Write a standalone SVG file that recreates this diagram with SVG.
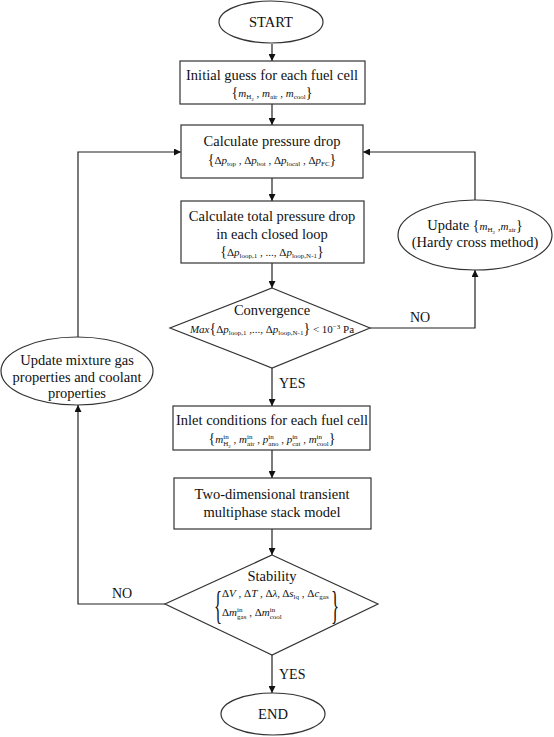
<svg xmlns="http://www.w3.org/2000/svg" width="554" height="737" viewBox="0 0 554 737">
<defs>
<marker id="ah" viewBox="0 0 10 10" refX="10" refY="5" markerWidth="7" markerHeight="7" markerUnits="userSpaceOnUse" orient="auto">
<path d="M0,0 L10,5 L0,10 z" fill="#111"/>
</marker>
<style>
.shape{fill:#fff;stroke:#333;stroke-width:1.2}
.con{fill:none;stroke:#222;stroke-width:1.2;marker-end:url(#ah)}
text{font-family:'Liberation Serif','Tinos','DejaVu Serif','Noto Serif','Times New Roman',serif;fill:#111}
.t{font-size:14.5px;text-anchor:middle}
.f{font-size:11px;text-anchor:middle}
.fl{font-size:11px}
.big{font-size:40px}
.i{font-style:italic}
.s{font-size:7px;font-style:normal}
.ss{font-size:5px}
.br{font-size:14px}
.lbl{font-size:14px}
</style>
</defs>

<g id="connectors">
<line class="con" x1="272" y1="44" x2="272" y2="61"/>
<line class="con" x1="272" y1="104" x2="272" y2="125"/>
<line class="con" x1="272" y1="178" x2="272" y2="201"/>
<line class="con" x1="272" y1="263" x2="272" y2="288"/>
<line class="con" x1="272" y1="368" x2="272" y2="406"/>
<line class="con" x1="272" y1="450" x2="272" y2="478"/>
<line class="con" x1="272" y1="529" x2="272" y2="555"/>
<line class="con" x1="272" y1="655" x2="272" y2="693"/>
<polyline class="con" points="370,328 475,328 475,270"/>
<polyline class="con" points="475,200 475,152 363,152"/>
<polyline class="con" points="165,604 78,604 78,405"/>
<polyline class="con" points="78,337 78,152 181,152"/>
<text class="lbl" x="279" y="388">YES</text>
<text class="lbl" x="279" y="679">YES</text>
<text class="lbl" x="410" y="322">NO</text>
<text class="lbl" x="112" y="598">NO</text>
</g>

<g id="start">
<ellipse class="shape" cx="271" cy="22" rx="52" ry="21"/>
<text class="t" x="271" y="27">START</text>
</g>

<g id="initial-guess">
<rect class="shape" x="180" y="61" width="185" height="43"/>
<text class="t" x="272" y="80">Initial guess for each fuel cell</text>
<text class="f" x="272" y="97"><tspan class="br">{</tspan><tspan class="i">m</tspan><tspan class="s" dy="2">H</tspan><tspan class="ss" dy="1.5">2</tspan><tspan dy="-3.5"> , </tspan><tspan class="i">m</tspan><tspan class="s" dy="2">air</tspan><tspan dy="-2"> , </tspan><tspan class="i">m</tspan><tspan class="s" dy="2">cool</tspan><tspan class="br" dy="-2">}</tspan></text>
</g>

<g id="pressure-drop">
<rect class="shape" x="181" y="125" width="182" height="53"/>
<text class="t" x="272" y="146">Calculate pressure drop</text>
<text class="f" x="272" y="164"><tspan class="br">{</tspan>Δ<tspan class="i">p</tspan><tspan class="s" dy="2">top</tspan><tspan dy="-2"> , </tspan>Δ<tspan class="i">p</tspan><tspan class="s" dy="2">bot</tspan><tspan dy="-2"> , </tspan>Δ<tspan class="i">p</tspan><tspan class="s" dy="2">local</tspan><tspan dy="-2"> , </tspan>Δ<tspan class="i">p</tspan><tspan class="s" dy="2">FC</tspan><tspan class="br" dy="-2">}</tspan></text>
</g>

<g id="total-pressure-drop">
<rect class="shape" x="181" y="201" width="183" height="62"/>
<text class="t" x="272" y="221">Calculate total pressure drop</text>
<text class="t" x="272" y="239">in each closed loop</text>
<text class="f" x="272" y="256"><tspan class="br">{</tspan>Δ<tspan class="i">p</tspan><tspan class="s" dy="2">loop,1</tspan><tspan dy="-2"> , ..., </tspan>Δ<tspan class="i">p</tspan><tspan class="s" dy="2">loop,N-1</tspan><tspan class="br" dy="-2">}</tspan></text>
</g>

<g id="convergence">
<polygon class="shape" points="272,288 370,328 272,368 170,328"/>
<text class="t" x="272" y="315">Convergence</text>
<text class="f" x="272" y="333"><tspan class="i">Max</tspan><tspan class="br">{</tspan>Δ<tspan class="i">p</tspan><tspan class="s" dy="2">loop,1</tspan><tspan dy="-2"> ,..., </tspan>Δ<tspan class="i">p</tspan><tspan class="s" dy="2">loop,N-1</tspan><tspan class="br" dy="-2">}</tspan> &lt; 10<tspan class="s" dy="-4">−3</tspan><tspan dy="4"> Pa</tspan></text>
</g>

<g id="update-hardy">
<ellipse class="shape" cx="475" cy="235" rx="77" ry="35"/>
<text class="t" x="475" y="230">Update <tspan class="br">{</tspan><tspan class="i" style="font-size:11px">m</tspan><tspan class="s" dy="2">H</tspan><tspan class="ss" dy="1.5">2</tspan><tspan style="font-size:11px" dy="-3.5"> ,</tspan><tspan class="i" style="font-size:11px">m</tspan><tspan class="s" dy="2">air</tspan><tspan class="br" dy="-2">}</tspan></text>
<text class="t" x="475" y="247">(Hardy cross method)</text>
</g>

<g id="update-mixture">
<ellipse class="shape" cx="77" cy="371" rx="76" ry="34"/>
<text class="t" x="77" y="365">Update mixture gas</text>
<text class="t" x="77" y="382">properties and coolant</text>
<text class="t" x="77" y="398">properties</text>
</g>

<g id="inlet-conditions">
<rect class="shape" x="173" y="406" width="197" height="44"/>
<text class="t" x="272" y="425">Inlet conditions for each fuel cell</text>
<text class="f" x="272" y="443"><tspan class="br">{</tspan><tspan class="i">m</tspan><tspan class="s" dy="-4">in</tspan><tspan class="s" dx="-5.4" dy="7">H</tspan><tspan class="ss" dy="1.5">2</tspan><tspan dy="-4.5"> , </tspan><tspan class="i">m</tspan><tspan class="s" dy="-4">in</tspan><tspan class="s" dx="-5.4" dy="7">air</tspan><tspan dy="-3"> , </tspan><tspan class="i">p</tspan><tspan class="s" dy="-4">in</tspan><tspan class="s" dx="-5.4" dy="7">ano</tspan><tspan dy="-3"> , </tspan><tspan class="i">p</tspan><tspan class="s" dy="-4">in</tspan><tspan class="s" dx="-5.4" dy="7">cat</tspan><tspan dy="-3"> , </tspan><tspan class="i">m</tspan><tspan class="s" dy="-4">in</tspan><tspan class="s" dx="-5.4" dy="7">cool</tspan><tspan class="br" dy="-3">}</tspan></text>
</g>

<g id="stack-model">
<rect class="shape" x="174" y="478" width="197" height="51"/>
<text class="t" x="272" y="499">Two-dimensional transient</text>
<text class="t" x="272" y="517">multiphase stack model</text>
</g>

<g id="stability">
<polygon class="shape" points="272,555 378,604 272,655 165,604"/>
<text class="t" x="272" y="581">Stability</text>
<text class="big" transform="translate(214,619) scale(0.42,1)">{</text>
<text class="big" transform="translate(331,619) scale(0.42,1)">}</text>
<text class="fl" x="222" y="597">Δ<tspan class="i">V</tspan> , Δ<tspan class="i">T</tspan> , Δ<tspan class="i">λ</tspan>, Δ<tspan class="i">s</tspan><tspan class="s" dy="2">lq</tspan><tspan dy="-2"> , Δ</tspan><tspan class="i">c</tspan><tspan class="s" dy="2">gas</tspan></text>
<text class="fl" x="222" y="616">Δ<tspan class="i">m</tspan><tspan class="s" dy="-4">in</tspan><tspan class="s" dx="-5.4" dy="7">gas</tspan><tspan dy="-3"> , Δ</tspan><tspan class="i">m</tspan><tspan class="s" dy="-4">in</tspan><tspan class="s" dx="-5.4" dy="7">cool</tspan></text>
</g>

<g id="end">
<ellipse class="shape" cx="273" cy="714" rx="52" ry="21"/>
<text class="t" x="273" y="719">END</text>
</g>
</svg>
